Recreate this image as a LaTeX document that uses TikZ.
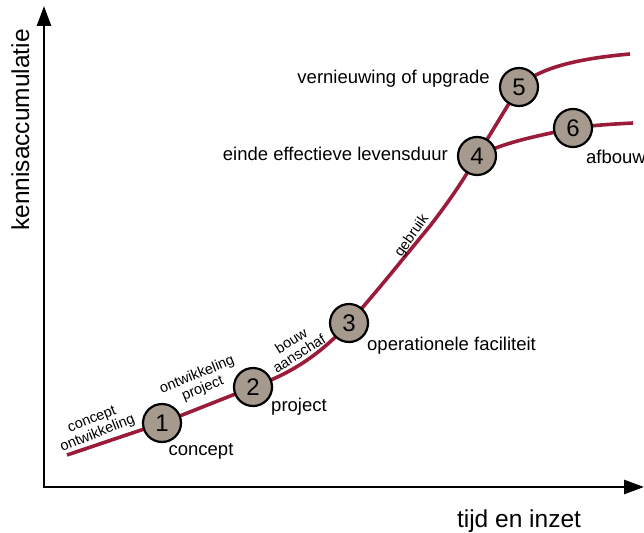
\documentclass[tikz,border=0pt]{standalone}
\usepackage{fontspec}
\setmainfont{Liberation Sans}
\usetikzlibrary{arrows.meta}
\definecolor{curvered}{RGB}{155,27,59}
\definecolor{stepfill}{RGB}{166,154,142}
\tikzset{
  curveline/.style={draw=curvered,line width=3.6pt,line cap=butt},
  stepcircle/.style={circle,draw=black,line width=2.2pt,fill=stepfill,minimum size=38pt,inner sep=0pt,font=\fontsize{24}{26}\selectfont},
  biglabel/.style={font=\fontsize{18.5}{20}\selectfont,inner sep=0pt},
  smalllabel/.style={font=\fontsize{14.5}{15}\selectfont,inner sep=0pt,align=center},
  axislabel/.style={font=\fontsize{24.5}{26}\selectfont,inner sep=0pt},
  axisline/.style={line width=2.6pt,-{Triangle[length=20pt,width=14pt]}}
}
\begin{document}
\begin{tikzpicture}[x=1pt,y=-1pt]
\useasboundingbox (0,0) rectangle (644,532);
% axes
\coordinate (origin) at (44,487);
\coordinate (ytop) at (44,6);
\coordinate (xend) at (644,487);
\draw[axisline] (origin) -- (ytop);
\draw[axisline] ([xshift=-1.3pt]origin) -- (xend);
% curve points
\coordinate (c0) at (67,455);
\coordinate (p1) at (162,423);
\coordinate (p2) at (253,387);
\coordinate (p3) at (349,323);
\coordinate (p4) at (477,156);
\coordinate (p5) at (519,87);
\coordinate (p6) at (573,128);
\coordinate (e5) at (630,54);
\coordinate (e6) at (633,123);
% curves
\draw[curveline] (c0) -- (p1) -- (p2) .. controls (290,374) and (320,355) .. (p3)
  .. controls (380,288) and (410,250) .. (430,226) .. controls (450,200) and (465,178) .. (p4) -- (p5);
\draw[curveline] (p5) .. controls (540,66) and (585,58) .. (e5);
\draw[curveline] (p4) .. controls (510,140) and (540,136) .. (p6) .. controls (595,125) and (615,124) .. (e6);
% circles
\node[stepcircle] (n1) at (p1) {1};
\node[stepcircle] (n2) at (p2) {2};
\node[stepcircle] (n3) at (p3) {3};
\node[stepcircle] (n4) at (p4) {4};
\node[stepcircle] (n5) at (p5) {5};
\node[stepcircle] (n6) at (p6) {6};
% labels
\node[biglabel,anchor=base] (l1) at (201,455) {concept};
\node[biglabel,anchor=base] (l2) at (299,411) {project};
\node[biglabel,anchor=base west] (l3) at (367,350) {operationele faciliteit};
\node[biglabel,anchor=base east] (l4) at (448,160) {einde effectieve levensduur};
\node[biglabel,anchor=base east] (l5) at (490,84) {vernieuwing of upgrade};
\node[biglabel,anchor=base west] (l6) at (586,163) {afbouw};
\node[smalllabel,rotate=22] (s1) at (95,427) {concept\\ontwikkeling};
\node[smalllabel,rotate=22] (s2) at (200,382) {ontwikkeling\\project};
\node[smalllabel,rotate=32] (s3) at (295,347) {bouw\\aanschaf};
\node[smalllabel,rotate=55] (s4) at (412,236) {gebruik};
\node[axislabel,anchor=base] (ax) at (519,527) {tijd en inzet};
\node[axislabel,rotate=90,anchor=base] (ay) at (29,130) {kennisaccumulatie};
\end{tikzpicture}
\end{document}
